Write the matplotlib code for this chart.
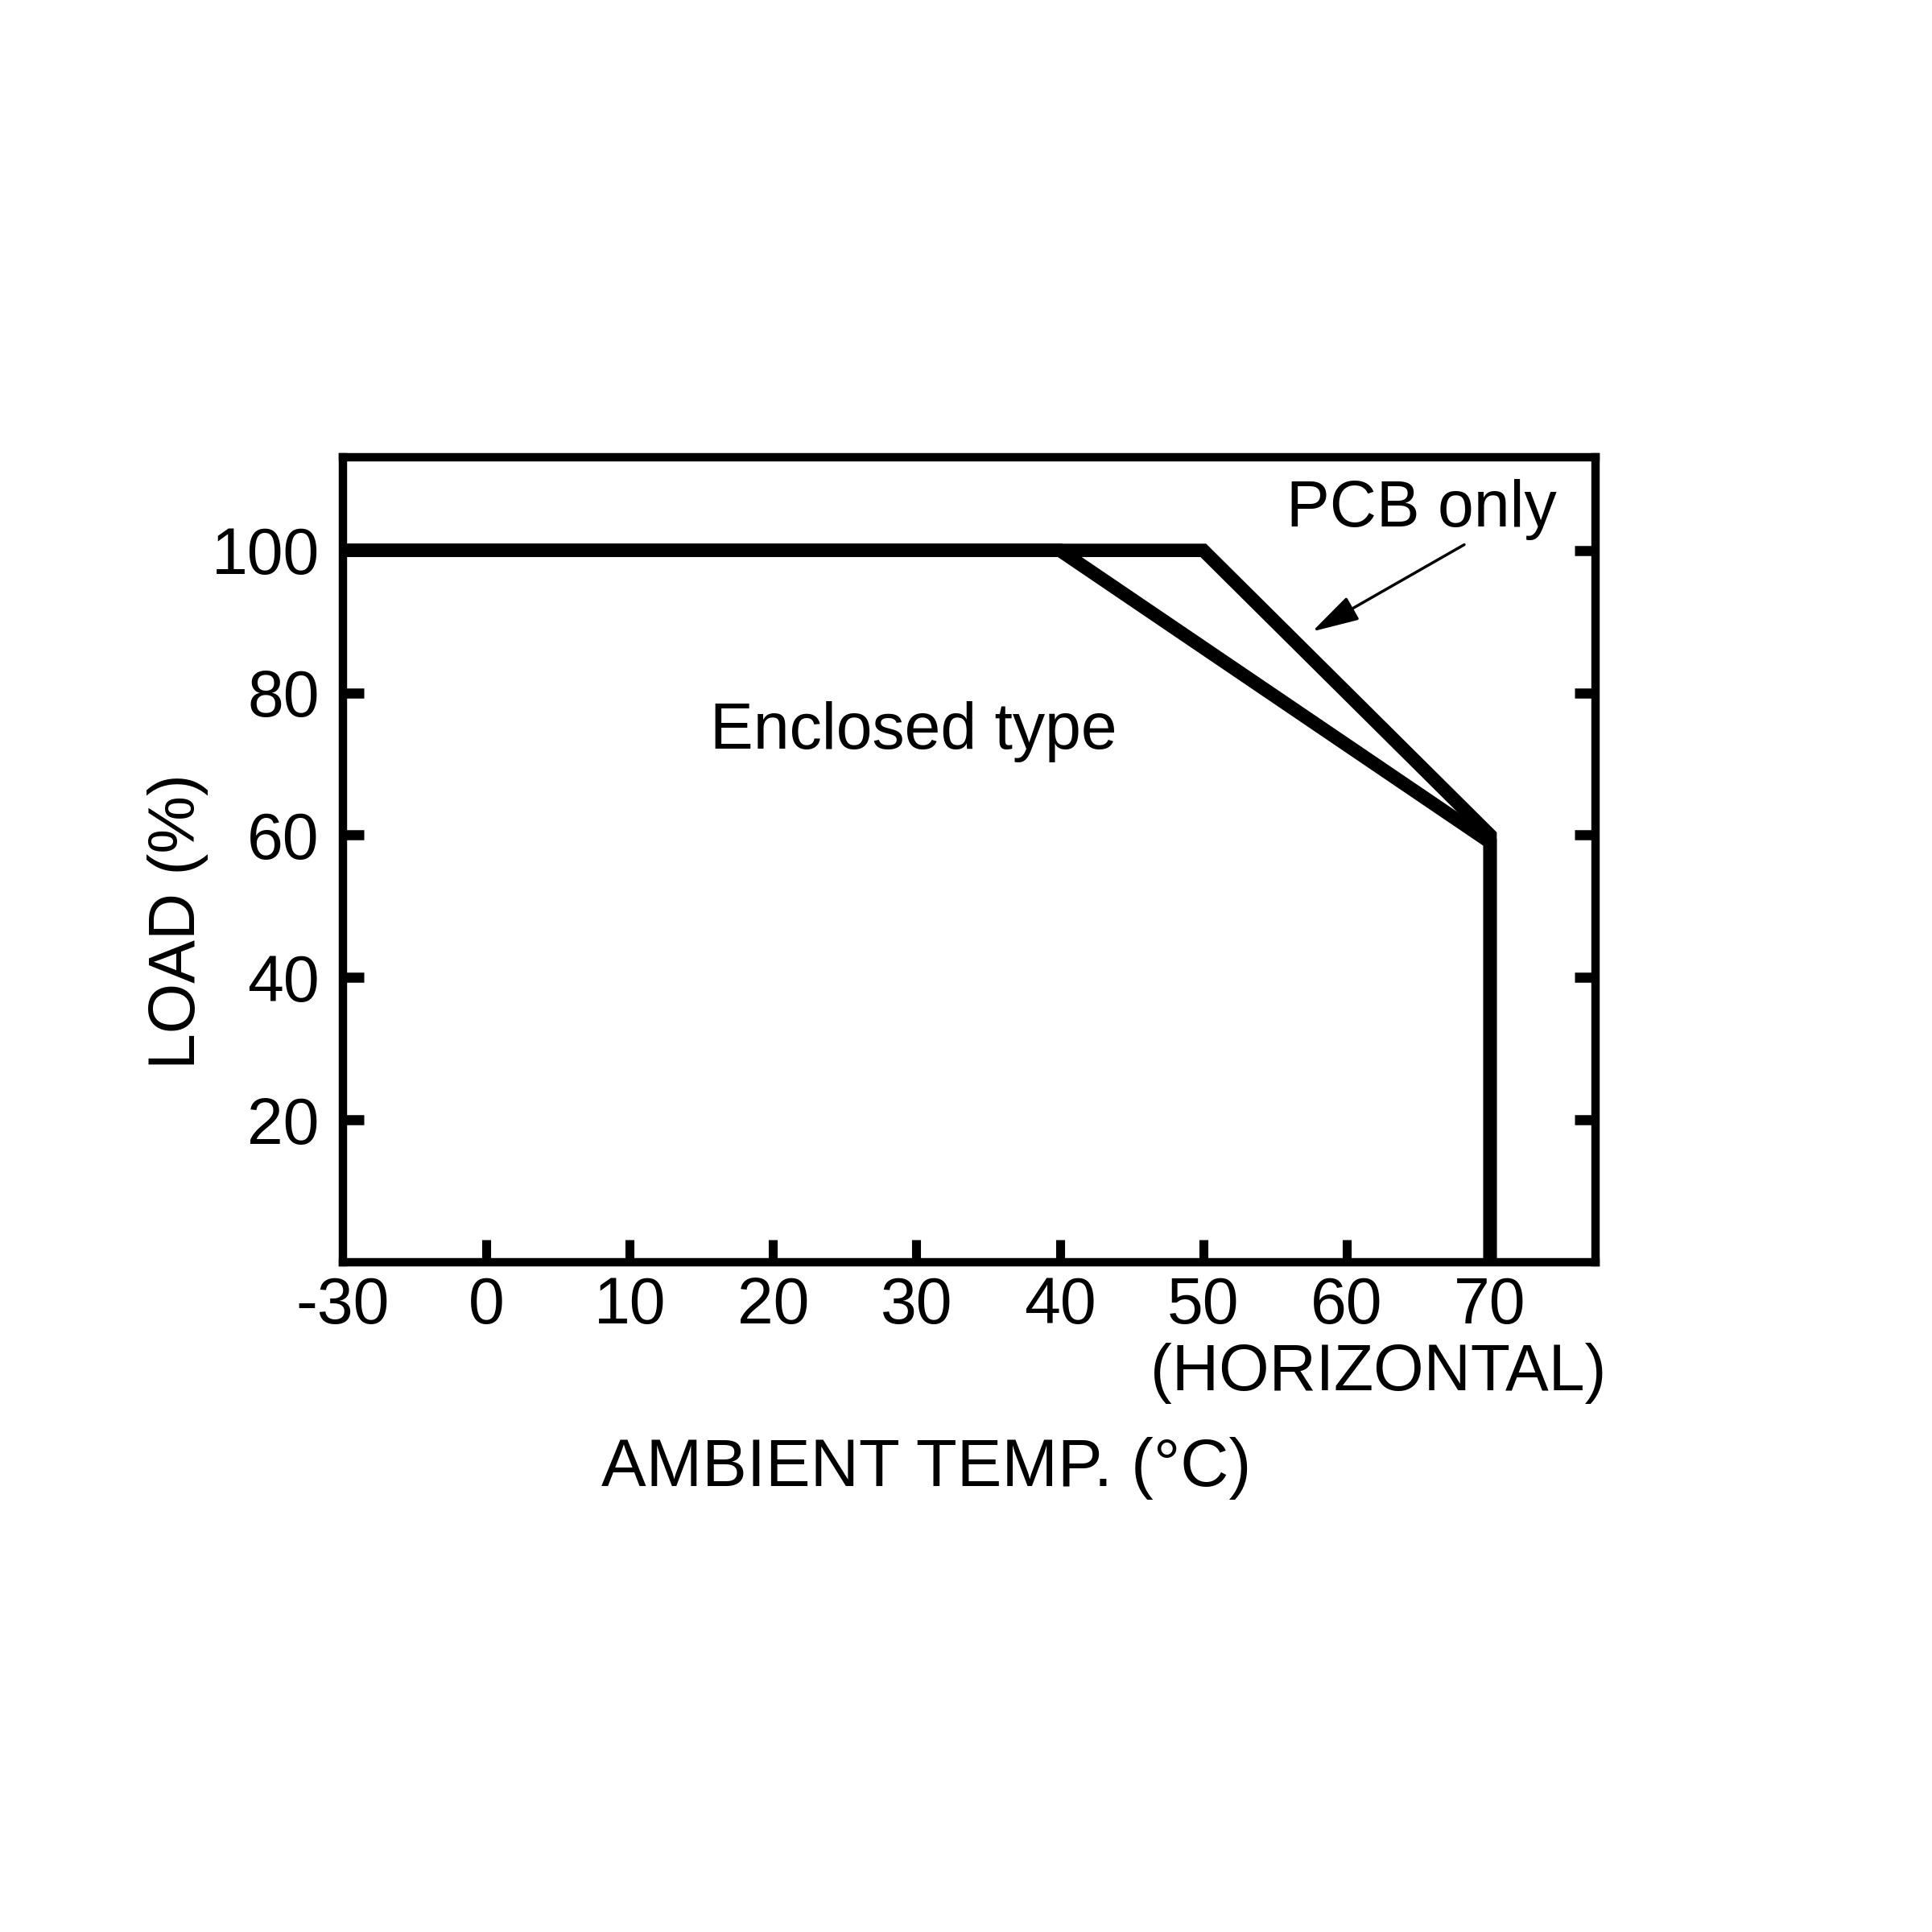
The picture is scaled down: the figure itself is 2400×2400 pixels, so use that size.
import matplotlib
matplotlib.use('Agg')
import matplotlib.pyplot as plt
import numpy as np

plt.rcParams['font.family'] = ['Liberation Sans', 'DejaVu Sans']

# -- Derating curves (ambient temp in degC vs load in %)
enclosed_temp = [-30, 40, 70, 70]
enclosed_load = [100, 100, 59, 0]
pcb_temp = [-30, 50, 70, 70]
pcb_load = [100, 100, 60, 0]

x_ticks = [-30, 0, 10, 20, 30, 40, 50, 60, 70]
x_labels = ['-30', '0', '10', '20', '30', '40', '50', '60', '70']
y_ticks = [20, 40, 60, 80, 100]
y_labels = ['20', '40', '60', '80', '100']


# -- The -30..0 part of the temperature axis is squeezed to a third
def fwd(x):
    x = np.asarray(x, dtype=float)
    return np.where(x < 0, x / 3.0, x)


def inv(x):
    x = np.asarray(x, dtype=float)
    return np.where(x < 0, x * 3.0, x)


fig = plt.figure(figsize=(24, 24), dpi=100)
ax = fig.add_axes([0.1775, 0.3467, 0.6483, 0.4167])

ax.set_xscale('function', functions=(fwd, inv))
ax.set_xlim(-30, 77.35)
ax.set_ylim(0, 113.1)

ax.plot(pcb_temp, pcb_load, color='black', lw=12, solid_joinstyle='miter', solid_capstyle='butt')
ax.plot(enclosed_temp, enclosed_load, color='black', lw=12, solid_joinstyle='miter', solid_capstyle='butt')

for s in ax.spines.values():
    s.set_linewidth(7.5)
    s.set_color('black')

ax.set_xticks(x_ticks)
ax.set_xticklabels(x_labels)
ax.set_yticks(y_ticks)
ax.set_yticklabels(y_labels)
ax.minorticks_off()

ax.tick_params(axis='x', which='major', direction='in', bottom=True, top=False,
               length=20, width=8, pad=12, labelsize=58)
ax.tick_params(axis='y', which='major', direction='in', left=True, right=True,
               length=19, width=9, pad=21, labelsize=58)

# -- no tick mark at the -30 end, it sits on the left frame
ax.xaxis.get_major_ticks()[0].tick1line.set_visible(False)

ax.text(65.2, 103.3, 'PCB only', fontsize=58, ha='center', va='baseline')
ax.text(29.8, 72.1, 'Enclosed type', fontsize=58, ha='center', va='baseline')
ax.text(62.2, -18.0, '(HORIZONTAL)', fontsize=58, ha='center', va='baseline')

ax.annotate('', xy=(57.6, 88.6), xytext=(68.2, 100.8),
            arrowprops=dict(arrowstyle='-|>,head_length=0.9,head_width=0.25',
                            mutation_scale=40, lw=2.5, color='black',
                            shrinkA=0, shrinkB=0))

ax.set_xlabel('AMBIENT TEMP. (°C)', fontsize=60, va='baseline')
ax.xaxis.set_label_coords(0.466, -0.278)
ax.set_ylabel('LOAD (%)', fontsize=58, va='baseline')
ax.yaxis.set_label_coords(-0.118, 0.423)

fig.savefig('out.png', dpi=100)
